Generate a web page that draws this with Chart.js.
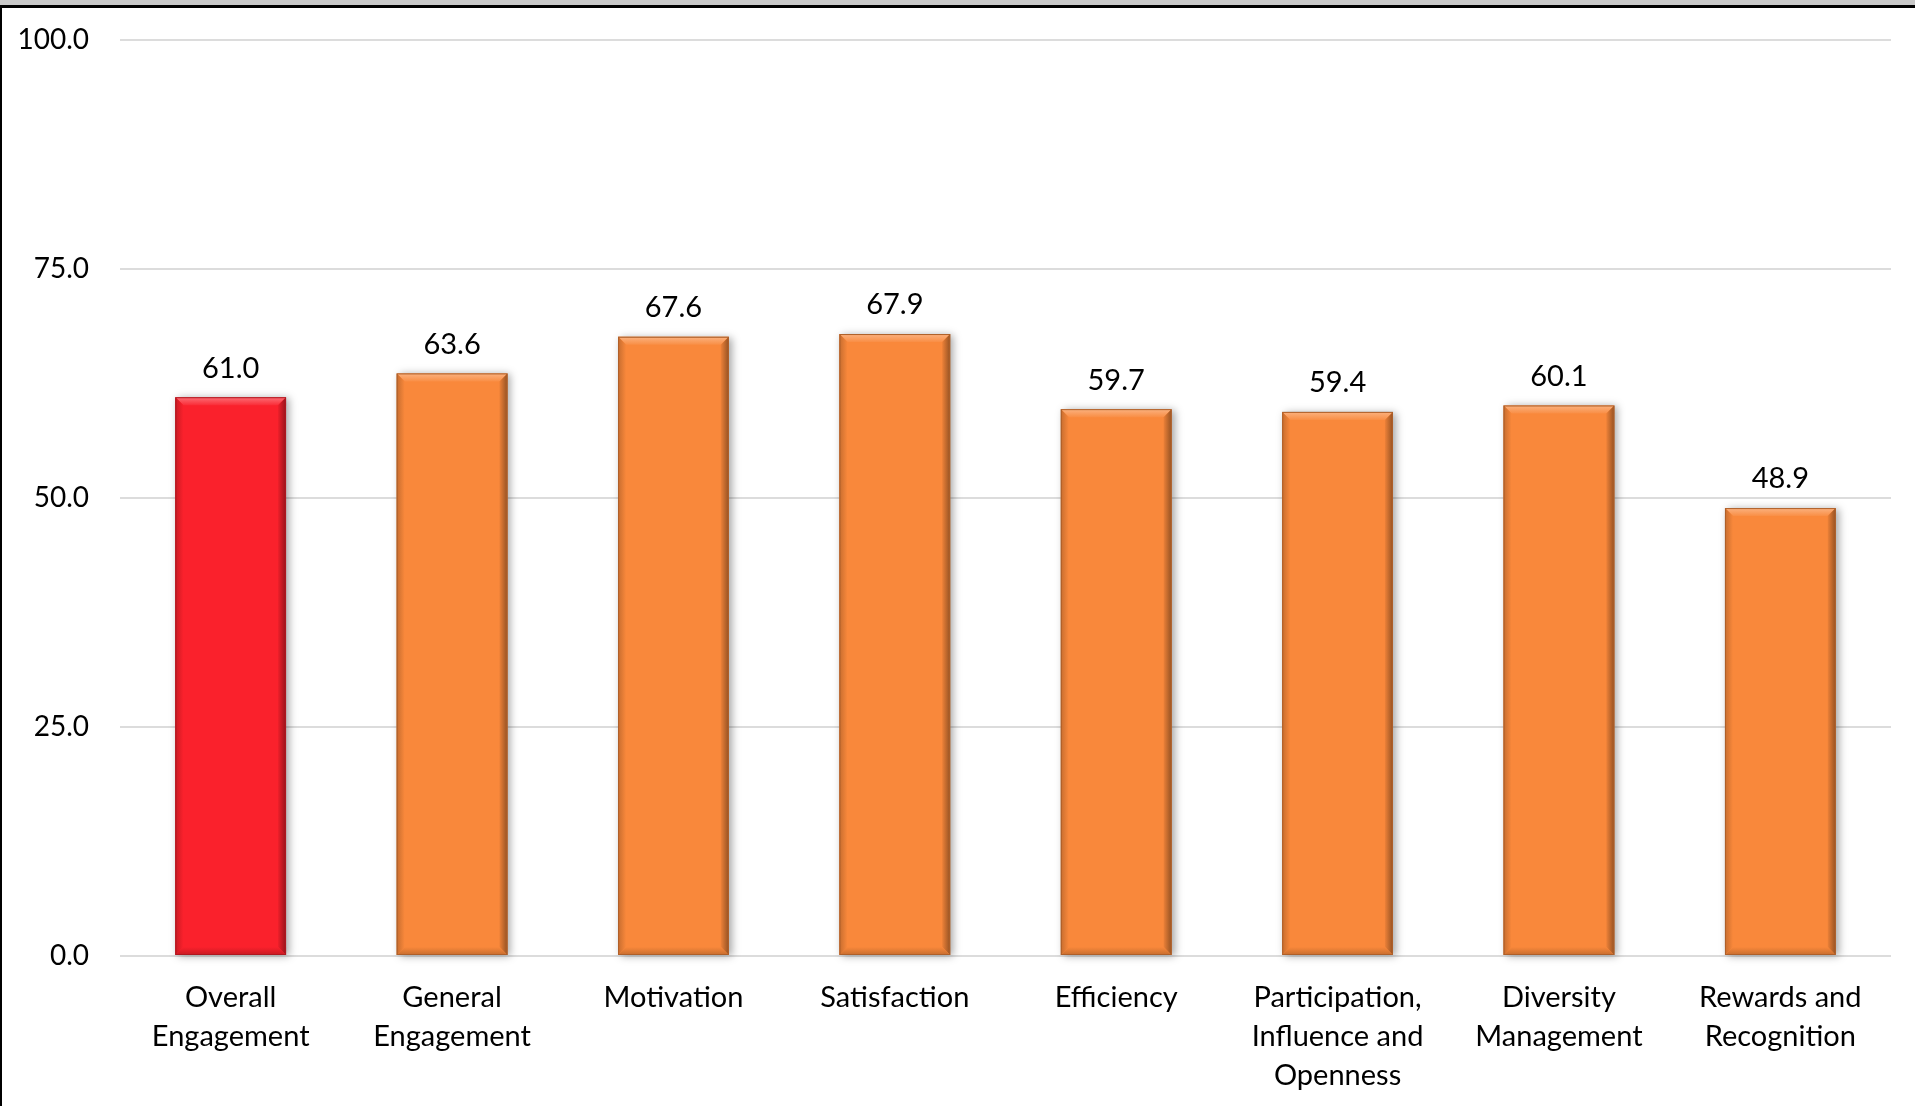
<!DOCTYPE html>
<html>
<head>
<meta charset="utf-8">
<script src="https://cdn.jsdelivr.net/npm/chart.js@4.4.1/dist/chart.umd.min.js"></script>
<style>
  html, body { margin: 0; padding: 0; background: #ffffff; }
  #wrap { position: relative; width: 1915px; height: 1106px; }
  canvas { display: block; }
</style>
</head>
<body>
<div id="wrap"><canvas id="c" width="1915" height="1106"></canvas></div>
<script>
const categories = [
  ["Overall", "Engagement"],
  ["General", "Engagement"],
  "Motivation",
  "Satisfaction",
  "Efficiency",
  ["Participation,", "Influence and", "Openness"],
  ["Diversity", "Management"],
  ["Rewards and", "Recognition"]
];
const scores = [61.0, 63.6, 67.6, 67.9, 59.7, 59.4, 60.1, 48.9];
const yTicks = [0, 25, 50, 75, 100];

const RED = '#FA212C';
const ORANGE = '#F9883B';
const barColors = categories.map((c, i) => i === 0 ? RED : ORANGE);
const FONT = 'Lato, "Open Sans", sans-serif';

function shade(hex, amt) {
  const n = parseInt(hex.slice(1), 16);
  let r = (n >> 16) & 255, g = (n >> 8) & 255, b = n & 255;
  const f = amt < 0 ? 0 : 255, p = Math.abs(amt);
  r = Math.round((f - r) * p + r); g = Math.round((f - g) * p + g); b = Math.round((f - b) * p + b);
  return `rgb(${r},${g},${b})`;
}

const framePlugin = {
  id: 'frame',
  beforeDraw(chart) {
    const ctx = chart.ctx;
    ctx.save();
    ctx.fillStyle = '#ffffff';
    ctx.fillRect(0, 0, chart.width, chart.height);
    ctx.fillStyle = '#c8c8c8';
    ctx.fillRect(0, 0, chart.width, 5);
    ctx.fillStyle = '#000000';
    ctx.fillRect(0, 5, chart.width, 3);
    ctx.fillRect(0, 5, 2, chart.height);
    ctx.restore();
  }
};

const bevelPlugin = {
  id: 'bevel',
  beforeDatasetsDraw(chart) {
    const ctx = chart.ctx;
    const meta = chart.getDatasetMeta(0);
    ctx.save();
    meta.data.forEach((bar) => {
      const p = bar.getProps(['x', 'y', 'base', 'width'], true);
      const l = p.x - p.width / 2;
      ctx.shadowColor = 'rgba(0,0,0,0.35)';
      ctx.shadowBlur = 8;
      ctx.shadowOffsetX = 3;
      ctx.shadowOffsetY = 1;
      ctx.fillStyle = '#888';
      ctx.fillRect(l, p.y, p.width, p.base - p.y);
    });
    ctx.restore();
  },
  afterDatasetsDraw(chart) {
    const ctx = chart.ctx;
    const meta = chart.getDatasetMeta(0);
    ctx.save();
    meta.data.forEach((bar, i) => {
      const p = bar.getProps(['x', 'y', 'base', 'width'], true);
      const col = barColors[i];
      const l = p.x - p.width / 2, r = p.x + p.width / 2, t = p.y, b = p.base;
      const bv = 8;
      let g = ctx.createLinearGradient(0, t, 0, t + bv);
      g.addColorStop(0, shade(col, 0.35));
      g.addColorStop(1, shade(col, 0.05));
      ctx.fillStyle = g;
      ctx.beginPath();
      ctx.moveTo(l, t); ctx.lineTo(r, t); ctx.lineTo(r - bv, t + bv); ctx.lineTo(l + bv, t + bv); ctx.closePath();
      ctx.fill();
      g = ctx.createLinearGradient(r - bv, 0, r, 0);
      g.addColorStop(0, shade(col, -0.05));
      g.addColorStop(1, shade(col, -0.4));
      ctx.fillStyle = g;
      ctx.beginPath();
      ctx.moveTo(r, t); ctx.lineTo(r, b); ctx.lineTo(r - bv, b - bv); ctx.lineTo(r - bv, t + bv); ctx.closePath();
      ctx.fill();
      g = ctx.createLinearGradient(l, 0, l + bv, 0);
      g.addColorStop(0, shade(col, -0.2));
      g.addColorStop(1, col);
      ctx.fillStyle = g;
      ctx.beginPath();
      ctx.moveTo(l, t); ctx.lineTo(l + bv, t + bv); ctx.lineTo(l + bv, b - bv); ctx.lineTo(l, b); ctx.closePath();
      ctx.fill();
      g = ctx.createLinearGradient(0, b - bv, 0, b);
      g.addColorStop(0, col);
      g.addColorStop(1, shade(col, -0.2));
      ctx.fillStyle = g;
      ctx.beginPath();
      ctx.moveTo(l, b); ctx.lineTo(l + bv, b - bv); ctx.lineTo(r - bv, b - bv); ctx.lineTo(r, b); ctx.closePath();
      ctx.fill();
      ctx.strokeStyle = shade(col, -0.3);
      ctx.lineWidth = 1;
      ctx.strokeRect(l + 0.5, t + 0.5, p.width - 1, b - t - 1);
    });
    ctx.restore();
  },
  afterDraw(chart) {
    const ctx = chart.ctx;
    const meta = chart.getDatasetMeta(0);
    ctx.save();
    ctx.font = '29px ' + FONT;
    ctx.fillStyle = '#000000';
    ctx.textAlign = 'center';
    ctx.textBaseline = 'middle';
    meta.data.forEach((bar, i) => {
      const p = bar.getProps(['x', 'y'], true);
      ctx.fillText(scores[i].toFixed(1), p.x, p.y - 29);
    });
    ctx.restore();
  }
};

new Chart(document.getElementById('c'), {
  type: 'bar',
  data: {
    labels: categories,
    datasets: [{
      data: scores,
      backgroundColor: barColors,
      borderWidth: 0,
      categoryPercentage: 1.0,
      barPercentage: 0.5
    }]
  },
  options: {
    responsive: false,
    animation: false,
    devicePixelRatio: 1,
    layout: { padding: { top: 40, right: 24, left: 0, bottom: 0 } },
    plugins: { legend: { display: false }, tooltip: { enabled: false } },
    scales: {
      x: {
        grid: { display: false, drawTicks: false },
        border: { display: false },
        ticks: {
          color: '#000000',
          font: { family: FONT, size: 29, lineHeight: 1.35 },
          padding: 22,
          maxRotation: 0,
          autoSkip: false
        },
        afterFit(scale) { scale.height = 150; }
      },
      y: {
        min: 0,
        max: 100,
        afterBuildTicks(scale) { scale.ticks = yTicks.map(v => ({ value: v })); },
        grid: { color: '#dcdcdc', lineWidth: 2, drawTicks: true, tickLength: 31, tickColor: 'rgba(0,0,0,0)' },
        border: { display: false },
        ticks: {
          color: '#000000',
          font: { family: FONT, size: 28 },
          padding: 0,
          callback: (v) => Number(v).toFixed(1)
        },
        afterFit(scale) { scale.width = 120; }
      }
    }
  },
  plugins: [framePlugin, bevelPlugin]
});
</script>
</body>
</html>
